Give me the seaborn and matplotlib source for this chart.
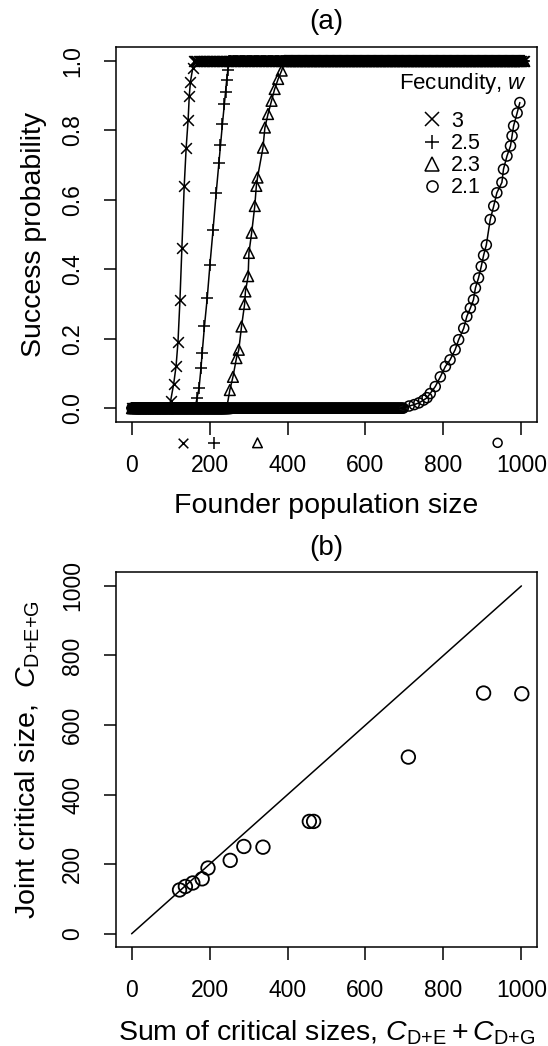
import numpy as np
import pandas as pd
import matplotlib
matplotlib.use("Agg")
import matplotlib.pyplot as plt
import seaborn as sns
from matplotlib.lines import Line2D
from matplotlib.transforms import Bbox, TransformedBbox

sns.set_style("ticks")
plt.rcParams['font.family'] = ['Liberation Sans', 'DejaVu Sans']
plt.rcParams['mathtext.fontset'] = 'custom'
plt.rcParams['mathtext.rm'] = 'Liberation Sans'
plt.rcParams['mathtext.it'] = 'Liberation Sans:italic'
for key in ['text.color', 'axes.labelcolor', 'xtick.color', 'ytick.color', 'axes.edgecolor']:
    plt.rcParams[key] = 'black'

# ---- panel (a): success probability vs founder size ----
fecundity = ['3', '2.5', '2.3', '2.1']
markers = ['x', '+', '^', 'o']

zero_until = [97, 165, 245, 700]
one_from = [160, 250, 392, 1010]
n_max = 1008

# points on the rising part of each curve
n_w3 = [100, 108, 114, 119, 124, 129, 135, 140, 145, 148, 151, 157]
p_w3 = [0.02, 0.07, 0.12, 0.19, 0.31, 0.46, 0.64, 0.75, 0.83, 0.90, 0.94, 0.98]

n_w25 = [168, 173, 178, 181, 187, 194, 201, 209, 217, 224, 228, 233, 238, 241, 244, 247]
p_w25 = [0.03, 0.057, 0.115, 0.158, 0.237, 0.317, 0.413, 0.514, 0.62, 0.707, 0.757, 0.818,
         0.876, 0.91, 0.945, 0.975]

n_w23 = [252, 260, 269, 275, 282, 290, 292, 299, 301, 308, 316, 320, 323, 337, 342, 350,
         359, 367, 376, 385]
p_w23 = [0.052, 0.09, 0.144, 0.168, 0.235, 0.30, 0.336, 0.38, 0.447, 0.505, 0.582, 0.64,
         0.664, 0.75, 0.808, 0.847, 0.885, 0.919, 0.948, 0.972]

n_w21 = [712, 725, 737, 749, 758, 766, 779, 792, 805, 817, 830, 839, 852, 860, 869, 877,
         882, 890, 897, 903, 910, 920, 929, 937, 950, 954, 963, 972, 976, 980, 989, 996]
p_w21 = [0.006, 0.01, 0.015, 0.023, 0.03, 0.042, 0.062, 0.09, 0.12, 0.139, 0.168, 0.197,
         0.23, 0.264, 0.288, 0.312, 0.346, 0.375, 0.408, 0.44, 0.47, 0.543, 0.582, 0.62,
         0.65, 0.688, 0.726, 0.755, 0.784, 0.813, 0.85, 0.88]

# critical sizes marked under the axis
critical = [132, 211, 323, 939]

# ---- panel (b): joint vs summed critical sizes ----
sum_critical = [123, 138, 157, 181, 196, 253, 288, 337, 456, 467, 710, 903, 1001]
joint_critical = [126, 136, 146, 158, 189, 211, 251, 249, 323, 323, 508, 692, 690]
diag = [0, 1000]

rise_n = [n_w3, n_w25, n_w23, n_w21]
rise_p = [p_w3, p_w25, p_w23, p_w21]

fig = plt.figure(figsize=(5.48, 10.46), dpi=100)
W, H = 548, 1046
ax1 = fig.add_axes([116 / W, 1 - 422 / H, 421 / W, 375 / H])
ax2 = fig.add_axes([116 / W, 1 - 947 / H, 421 / W, 375 / H])

tick_fs = 16.5
label_fs = 20.5
title_fs = 20
legend_fs = 15.5

handles = []
for i, lab in enumerate(fecundity):
    flat0 = np.arange(1, zero_until[i], 3)
    flat1 = np.arange(one_from[i], n_max, 3)
    df = pd.DataFrame({
        'N': np.concatenate([flat0, rise_n[i], flat1]),
        'p': np.concatenate([np.zeros(len(flat0)), rise_p[i], np.ones(len(flat1))]),
    })
    sns.lineplot(data=df, x='N', y='p', sort=False, estimator=None, color='black',
                 linewidth=1.1, ax=ax1)
    m = markers[i]
    if m in ('x', '+'):
        kw = dict(color='black', linewidth=1.1)
        size = 60 if m == 'x' else 85
    else:
        kw = dict(facecolor='none', edgecolor='black', linewidth=1.1)
        size = 60 if m == '^' else 52
    sns.scatterplot(data=df, x='N', y='p', marker=m, s=size, ax=ax1, zorder=3, **kw)
    sns.scatterplot(x=[critical[i]], y=[-0.1], marker=m, s=size * 0.8, ax=ax1,
                    clip_on=False, zorder=3, **kw)
    handles.append(Line2D([], [], linestyle='none', marker=m, color='black',
                          markerfacecolor='none',
                          markersize=8 if m == 'o' else 10, markeredgewidth=1.1))

ax1.set_xlim(-40, 1040)
ax1.set_ylim(-0.04, 1.04)
ax1.set_xticks([0, 200, 400, 600, 800, 1000])
ax1.set_yticks([0, 0.2, 0.4, 0.6, 0.8, 1.0])
ax1.set_yticklabels(['0.0', '0.2', '0.4', '0.6', '0.8', '1.0'])
ax1.set_xlabel('Founder population size', fontsize=label_fs)
ax1.set_ylabel('Success probability', fontsize=label_fs)
ax1.set_title('(a)', fontsize=title_fs, pad=13)

# legend: title written on its own, entries below it
ax1.text((527 - 116) / 421, (422 - 83) / 375, 'Fecundity, $w$', transform=ax1.transAxes,
         ha='right', va='center', fontsize=legend_fs + 0.5)
ax1.legend(handles, fecundity, frameon=False, loc='upper left',
           bbox_to_anchor=((422 - 116) / 421, (422 - 111) / 375), fontsize=legend_fs,
           borderpad=0, borderaxespad=0, handlelength=0.9, handletextpad=0.45,
           labelspacing=0.05)

# panel (b)
sns.lineplot(x=diag, y=diag, color='black', linewidth=1.1, ax=ax2)
sns.scatterplot(x=sum_critical, y=joint_critical, marker='o', s=95, facecolor='none',
                edgecolor='black', linewidth=1.3, ax=ax2, zorder=3)
ax2.set_xlim(-40, 1040)
ax2.set_ylim(-38, 1040)
ax2.set_xticks([0, 200, 400, 600, 800, 1000])
ax2.set_yticks([0, 200, 400, 600, 800, 1000])
ax2.set_xlabel('Sum of critical sizes, $C_{\\mathrm{D{+}E}} + C_{\\mathrm{D{+}G}}$',
               fontsize=label_fs)
ax2.set_ylabel('Joint critical size,  $C_{\\mathrm{D{+}E{+}G}}$', fontsize=label_fs)
ax2.set_title('(b)', fontsize=title_fs, pad=12)

for ax in (ax1, ax2):
    for sp in ax.spines.values():
        sp.set_linewidth(1.1)
        sp.set_color('black')
    ax.tick_params(direction='out', length=9, width=1.1, colors='black',
                   labelsize=tick_fs)
    ax.tick_params(axis='x', pad=14)
    ax.tick_params(axis='y', pad=14, labelrotation=90)
    for t in ax.get_yticklabels():
        t.set_va('center')
    ax.xaxis.set_label_coords(0.5, -0.19)
ax1.yaxis.set_label_coords(-0.165, 0.5)
ax2.yaxis.set_label_coords(-0.175, 0.5)

# the x label of (a) is cut by the region of (b) in the original
clip = TransformedBbox(Bbox([[0, 1 - 519 / H], [1, 1]]), fig.transFigure)
ax1.xaxis.label.set_clip_box(clip)
ax1.xaxis.label.set_clip_on(True)

fig.savefig('out.png', dpi=100)
